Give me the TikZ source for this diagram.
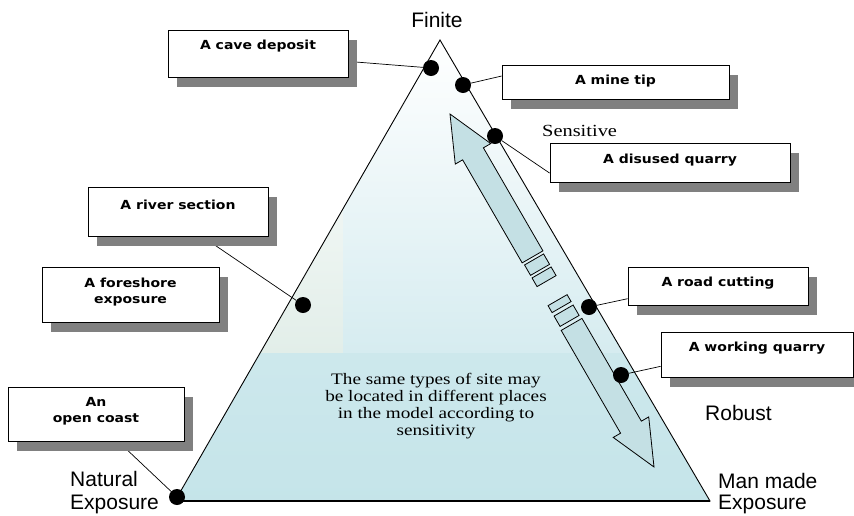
\documentclass[tikz,border=0pt]{standalone}
\usepackage{fontspec}
\usetikzlibrary{calc,shadows}
\newfontfamily\boxfont{DejaVu Sans}[FakeStretch=1.12]
\newfontfamily\serifw{Liberation Serif}[FakeStretch=1.2]
\newfontfamily\sanslab{Liberation Sans}
\definecolor{fillA}{RGB}{196,228,233}
\definecolor{fillB}{RGB}{214,236,240}
\definecolor{fillC}{RGB}{226,238,233}
\definecolor{arrfill}{RGB}{196,224,228}
\pgfdeclarelayer{bg}
\pgfsetlayers{bg,main}
\newcommand\arpt[3]{\path ($(T)!#2pt!(B)$) coordinate (aux) ($(aux)!#3pt!90:(B)$) coordinate (#1);}
\newcommand\arblock[3]{\arpt{k1}{#1}{-#3}\arpt{k2}{#1}{#3}\arpt{k3}{#2}{#3}\arpt{k4}{#2}{-#3}\draw[arrowst] (k1)--(k2)--(k3)--(k4)--cycle;}
\begin{document}
\begin{tikzpicture}[x=1pt,y=-1pt,
  sitebox/.style={draw=black, line width=0.9pt, fill=white, rectangle, inner sep=0pt,
    drop shadow={shadow xshift=9pt, shadow yshift=-10pt, fill=black!50, opacity=1}},
  sitelabel/.style={font=\boxfont\bfseries\fontsize{12.5}{16}\selectfont, align=center, inner sep=0pt},
  sitedot/.style={circle, fill=black, minimum size=16pt, inner sep=0pt},
  axislabel/.style={font=\sanslab\fontsize{21}{25}\selectfont, inner sep=0pt, anchor=base west},
  conn/.style={draw=black, line width=0.7pt},
  arrowst/.style={draw=black, line width=0.8pt, fill=arrfill, line join=miter},
]
\useasboundingbox (0,0) rectangle (854,515);
% triangle corners
\coordinate (apex) at (440,40);
\coordinate (bl) at (175,501);
\coordinate (br) at (710,501);
\coordinate (T) at (450,114);
\coordinate (B) at (654,467);

% boxes
\node[sitebox, minimum width=180pt, minimum height=47pt] (cave) at (258,53.5) {};
\node[sitebox, minimum width=227pt, minimum height=34pt] (mine) at (615.5,82) {};
\node[sitebox, minimum width=240pt, minimum height=39pt] (disused) at (670,162.5) {};
\node[sitebox, minimum width=180pt, minimum height=49pt] (river) at (178,211.5) {};
\node[sitebox, minimum width=177pt, minimum height=55pt] (fore) at (130.5,294.5) {};
\node[sitebox, minimum width=176pt, minimum height=54pt] (coast) at (96,414) {};
\node[sitebox, minimum width=180pt, minimum height=38pt] (road) at (718,286) {};
\node[sitebox, minimum width=192pt, minimum height=45pt] (work) at (757,354.5) {};

\node[sitelabel] (cavet) at (258,46) {A cave deposit};
\node[sitelabel] (minet) at (615.5,81) {A mine tip};
\node[sitelabel] (disusedt) at (670,160) {A disused quarry};
\node[sitelabel] (rivert) at (178,205) {A river section};
\node[sitelabel] (foret) at (130.5,292) {A foreshore\\exposure};
\node[sitelabel] (coastt) at (96,411) {An\\open coast};
\node[sitelabel] (roadt) at (718,283) {A road cutting};
\node[sitelabel] (workt) at (757,348) {A working quarry};

% dots
\node[sitedot] (cavedot) at (431,68) {};
\node[sitedot] (minedot) at (463,85) {};
\node[sitedot] (disdot) at (495,136) {};
\node[sitedot] (roaddot) at (589,307) {};
\node[sitedot] (workdot) at (621,375) {};
\node[sitedot] (riverdot) at (303,305) {};
\node[sitedot] (coastdot) at (177,497) {};

% texts
\node[font=\sanslab\fontsize{21}{25}\selectfont, inner sep=0pt, anchor=base] (finite) at (437,27) {Finite};
\node[axislabel] (nat1) at (70,486) {Natural};
\node[axislabel] (nat2) at (70,509) {Exposure};
\node[axislabel] (robust) at (705,420) {Robust};
\node[axislabel] (man1) at (718,488) {Man made};
\node[axislabel] (man2) at (718,509) {Exposure};
\node[font=\serifw\fontsize{17}{20}\selectfont, inner sep=0pt, anchor=base west] (sens) at (542,136) {Sensitive};
\node[font=\serifw\fontsize{16}{17}\selectfont, inner sep=0pt, align=center] (note) at (436,406)
  {The same types of site may\\be located in different places\\in the model according to\\sensitivity};

\begin{pgfonlayer}{bg}
\fill[white] (0,0) rectangle (854,515);
\begin{scope}
  \clip (apex) -- (bl) -- (br) -- cycle;
  \shade[top color=white, bottom color=fillC] (0,40) rectangle (343,353);
  \shade[top color=white, bottom color=fillB] (343,40) rectangle (854,353);
  \shade[top color=fillA!85!white, bottom color=fillA] (0,353) rectangle (854,515);
\end{scope}
% double arrow
\arpt{a1}{46}{20.5}\arpt{a2}{46}{12}\arpt{a3}{165}{12}\arpt{a4}{165}{-12}\arpt{a5}{46}{-12}\arpt{a6}{46}{-20.5}
\draw[arrowst] (T) -- (a1) -- (a2) -- (a3) -- (a4) -- (a5) -- (a6) -- cycle;
\arblock{168}{180}{11}
\arblock{183}{193}{11}
\arblock{215}{223}{11}
\arblock{227}{239}{11}
\arpt{c1}{243}{12}\arpt{c2}{361.7}{12}\arpt{c3}{361.7}{20.5}\arpt{c4}{361.7}{-20.5}\arpt{c5}{361.7}{-12}\arpt{c6}{243}{-12}
\draw[arrowst] (c1) -- (c2) -- (c3) -- (B) -- (c4) -- (c5) -- (c6) -- cycle;
% triangle outline
\draw[line width=0.9pt] (apex) -- (bl) -- (br) -- cycle;
\draw[line width=1.5pt] (bl) -- (br);
% connectors
\draw[conn] (cave.-5) -- (cavedot);
\draw[conn] (minedot) -- (mine.177);
\draw[conn] (disdot) -- (disused.185);
\draw[conn] (river.-46) -- (riverdot);
\draw[conn] (coast.-51) -- (coastdot);
\draw[conn] (roaddot) -- (road.188);
\draw[conn] (workdot) -- (work.187);
\end{pgfonlayer}
\end{tikzpicture}
\end{document}
